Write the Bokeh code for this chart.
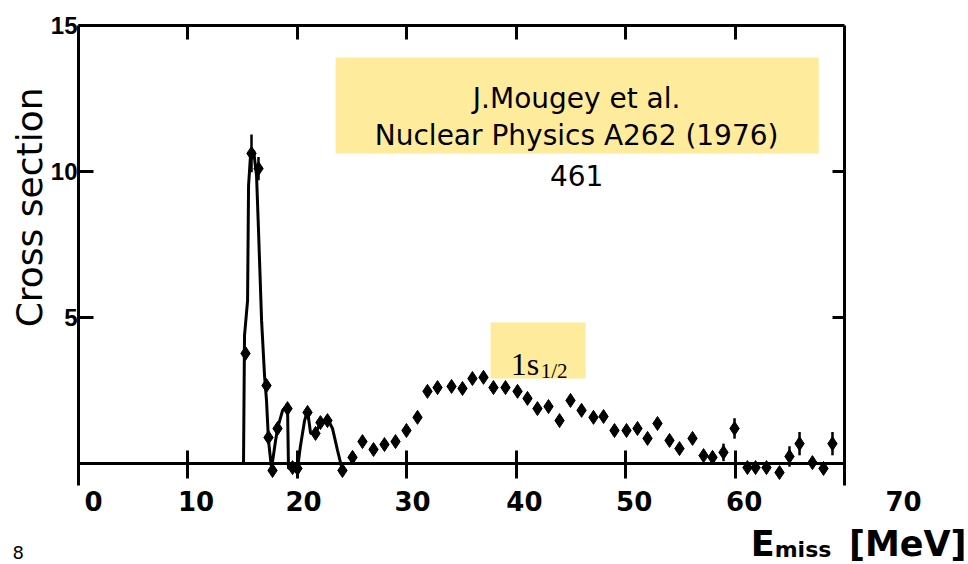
import math
from bokeh.plotting import figure
from bokeh.models import Range1d, LinearAxis, FixedTicker, Label, BoxAnnotation
from bokeh.embed import file_html
from bokeh.resources import INLINE

# ---------------- data ----------------
pts_x = [15.26, 15.81, 16.45, 17.18, 17.36, 17.73, 18.19, 19.10, 19.56, 20.01,
         20.93, 21.66, 22.11, 22.75, 24.12, 25.04, 25.95, 26.96, 27.96, 28.97,
         29.97, 30.98, 31.89, 32.81, 34.09, 35.09, 36.00, 37.01, 37.92, 39.02,
         40.12, 41.03, 41.94, 42.95, 43.96, 44.96, 45.97, 47.06, 47.98, 48.98,
         50.08, 51.08, 52.00, 52.91, 54.01, 54.92, 56.11, 57.12, 57.94, 58.94,
         59.95, 61.13, 61.87, 62.87, 64.06, 64.97, 65.89, 67.07, 68.08, 68.90]
pts_y = [3.77, 10.62, 10.10, 2.67, 0.89, -0.24, 1.20, 1.88, -0.14, -0.17,
         1.75, 1.03, 1.40, 1.47, -0.24, 0.21, 0.75, 0.48, 0.65, 0.75,
         1.13, 1.58, 2.47, 2.60, 2.64, 2.57, 2.91, 2.95, 2.60, 2.60,
         2.47, 2.23, 1.88, 1.95, 1.47, 2.16, 1.82, 1.58, 1.61, 1.13,
         1.13, 1.20, 0.86, 1.37, 0.79, 0.51, 0.86, 0.27, 0.21, 0.38,
         1.20, -0.14, -0.14, -0.14, -0.31, 0.24, 0.68, 0.03, -0.17, 0.68]
pts_err = [0.20, 0.65, 0.40, 0.15, 0.15, 0.15, 0.15, 0.15, 0.15, 0.15,
           0.15, 0.15, 0.15, 0.15, 0.15, 0.15, 0.15, 0.15, 0.15, 0.15,
           0.15, 0.15, 0.15, 0.15, 0.15, 0.15, 0.15, 0.15, 0.15, 0.15,
           0.15, 0.15, 0.15, 0.15, 0.15, 0.15, 0.15, 0.15, 0.15, 0.15,
           0.15, 0.15, 0.15, 0.15, 0.15, 0.15, 0.15, 0.15, 0.15, 0.30,
           0.35, 0.15, 0.15, 0.15, 0.15, 0.35, 0.40, 0.15, 0.15, 0.40]

curve_x = [15.08, 15.17, 15.45, 15.54, 15.72, 16.00, 16.27, 16.45, 16.73, 17.00,
           17.18, 17.36, 17.64, 18.01, 18.19, 18.65, 19.10, 19.19, 19.56, 20.01,
           20.29, 20.66, 20.93, 21.21, 21.66, 22.11, 22.75, 23.21, 23.67, 24.12]
curve_y = [0.00, 4.38, 5.58, 9.52, 10.55, 10.72, 9.86, 7.98, 4.90, 3.01,
           2.16, 0.79, -0.17, 0.79, 1.20, 1.82, 1.99, -0.17, -0.14, -0.17,
           0.62, 1.47, 1.82, 1.03, 1.03, 1.40, 1.54, 1.20, 0.45, -0.24]

frame_ticks = [0, 10, 20, 30, 40, 50, 60, 70]
top_ticks = [10, 20, 30, 40, 50, 60]
# the slide's overlaid tick labels sit slightly off the scanned tick marks
label_pos = [1.37, 10.74, 20.56, 30.52, 40.75, 50.78, 60.83, 75.39]
label_text = ["0", "10", "20", "30", "40", "50", "60", "70"]
y_ticks = [5, 10, 15]
right_ticks = [5, 10]

X0, X1 = 0, 70          # scanned frame extent
Y0, Y1 = -0.75, 15

# ---------------- figure (frame covers the whole canvas) ----------------
p = figure(width=968, height=564,
           x_range=Range1d(-7.128, 81.33), y_range=Range1d(-3.459, 15.856),
           output_backend="svg", toolbar_location=None,
           x_axis_location=None, y_axis_location=None,
           min_border=0, background_fill_color="white", border_fill_color="white")
p.outline_line_color = None
p.grid.visible = False

def frame_axis(ticks, loc, bounds, tin, tout):
    ax = LinearAxis(ticker=FixedTicker(ticks=ticks), fixed_location=loc, bounds=bounds)
    ax.axis_line_width = 3
    ax.axis_line_color = "black"
    ax.major_tick_line_width = 3
    ax.major_tick_line_color = "black"
    ax.major_tick_in = tin
    ax.major_tick_out = tout
    ax.minor_tick_line_color = None
    ax.major_label_text_color = None
    return ax

yax = frame_axis(y_ticks, X0, (Y0, Y1), 15, 0)
yax.major_label_text_color = "black"
yax.major_label_text_font = "Liberation Sans"
yax.major_label_text_font_style = "bold"
yax.major_label_text_font_size = "24px"
yax.major_label_standoff = 1
p.add_layout(yax, "left")

p.add_layout(frame_axis(right_ticks, X1, (Y0, Y1), 12, 0), "right")
p.add_layout(frame_axis(top_ticks, Y1, (X0, X1), 14, 0), "above")
p.add_layout(frame_axis(frame_ticks, 0, (X0, X1), 13, 15), "below")

lax = LinearAxis(ticker=FixedTicker(ticks=label_pos), fixed_location=Y0,
                 major_label_overrides={pos: t for pos, t in zip(label_pos, label_text)})
lax.axis_line_color = None
lax.major_tick_line_color = None
lax.minor_tick_line_color = None
lax.major_tick_in = 0
lax.major_tick_out = 0
lax.major_label_standoff = 6
lax.major_label_text_font = "DejaVu Sans"
lax.major_label_text_font_style = "bold"
lax.major_label_text_font_size = "26px"
lax.major_label_text_color = "black"
p.add_layout(lax, "below")

# ---------------- data marks ----------------
p.line(curve_x, curve_y, line_width=3, line_color="black")
p.segment(x0=pts_x, y0=[y - e for y, e in zip(pts_y, pts_err)],
          x1=pts_x, y1=[y + e for y, e in zip(pts_y, pts_err)],
          line_width=2.5, line_color="black")
p.scatter(pts_x, pts_y, marker="diamond", size=14, fill_color="black", line_color="black")

# ---------------- texts and boxes ----------------
def lab(x, y, text, size, font="DejaVu Sans", style="normal", align="left", angle=0.0):
    p.add_layout(Label(x=x, y=y, text=text, angle=angle, text_align=align,
                       text_baseline="alphabetic", text_font=font, text_font_style=style,
                       text_font_size=size, text_color="black"))

lab(-4.45, 8.77, "Cross section", "36px", align="center", angle=math.pi / 2)

lab(61.43, -2.77, "E", "35px", style="bold")
lab(63.62, -2.93, "miss", "22px", style="bold")
lab(70.40, -2.77, "[MeV]", "35px", style="bold")

lab(-6.03, -3.05, "8", "18px")

yellow = "#FFEB9C"
p.add_layout(BoxAnnotation(left=23.49, right=67.64, top=13.90, bottom=10.62,
                           fill_color=yellow, fill_alpha=1.0, line_color=None))
for txt, yy in [("J.Mougey et al.", 12.50), ("Nuclear Physics A262 (1976)", 11.23), ("461", 9.86)]:
    lab(45.52, yy, txt, "28px", align="center")

p.add_layout(BoxAnnotation(left=37.66, right=46.34, top=4.83, bottom=2.91,
                           fill_color=yellow, fill_alpha=1.0, line_color=None))
lab(39.49, 3.42, "1s", "32px", font="Liberation Serif")
lab(42.23, 3.18, "1/2", "21px", font="Liberation Serif")

open("out.html", "w").write(file_html(p, INLINE))
